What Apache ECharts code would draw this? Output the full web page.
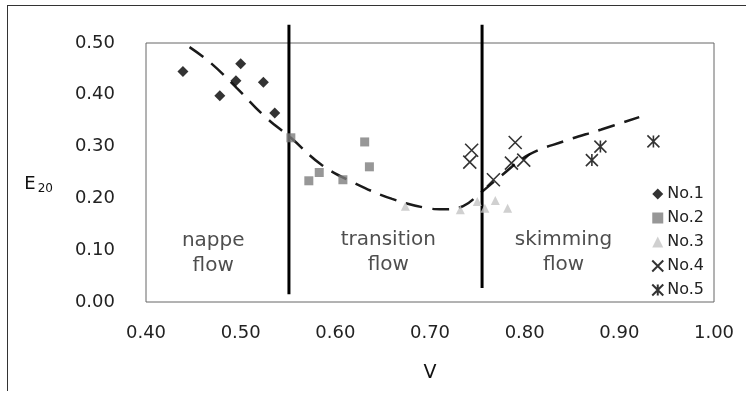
<!DOCTYPE html>
<html>
<head>
  <meta charset="UTF-8">
  <title>E20 vs V</title>
  <style>
    body { margin: 0; background: #fff; }
    #frame {
      position: absolute; left: 7px; top: 5px; width: 739px; height: 385px;
      border-top: 1.5px solid #333; border-left: 1.5px solid #333;
    }
    #chart { position: absolute; left: 0; top: 0; width: 746px; height: 393px; }
  </style>
  <script src="https://cdn.jsdelivr.net/npm/echarts@6/dist/echarts.min.js"></script>
</head>
<body>
  <div id="frame"></div>
  <div id="chart"></div>
  <script>
    // measured points [V, E20]
    var no1 = [[0.439, 0.445], [0.478, 0.398], [0.495, 0.427], [0.500, 0.460], [0.524, 0.424], [0.536, 0.365]];
    var no2 = [[0.553, 0.317], [0.572, 0.234], [0.583, 0.250], [0.608, 0.236], [0.631, 0.309], [0.636, 0.261]];
    var no3 = [[0.674, 0.185], [0.732, 0.178], [0.750, 0.194], [0.758, 0.181], [0.769, 0.196], [0.782, 0.181]];
    var no4 = [[0.742, 0.270], [0.744, 0.293], [0.767, 0.236], [0.786, 0.268], [0.790, 0.308], [0.799, 0.274]];
    var no5 = [[0.871, 0.274], [0.880, 0.300], [0.936, 0.310]];

    // dashed trend curve
    var trendV = [0.446, 0.468, 0.496, 0.525, 0.553, 0.586, 0.621, 0.660, 0.698, 0.714, 0.735, 0.753, 0.774, 0.804, 0.841, 0.881, 0.921];
    var trendE = [0.492, 0.462, 0.413, 0.359, 0.317, 0.264, 0.229, 0.199, 0.181, 0.179, 0.185, 0.210, 0.242, 0.284, 0.310, 0.333, 0.357];

    // flow regime boundaries and labels
    var bounds = [0.551, 0.755];
    var boundBottom = [0.015, 0.027];
    var boundTop = 0.535;
    var regimeNames = ['nappe\nflow', 'transition\nflow', 'skimming\nflow'];
    var regimeV = [0.471, 0.656, 0.841];
    var regimeE = [0.094, 0.096, 0.096];

    var xTicks = [0.4, 1.0, 0.1];
    var yTicks = [0, 0.5, 0.1];

    var font = 'DejaVu Sans';
    var myChart = echarts.init(document.getElementById('chart'));

    var trend = trendV.map(function (v, i) { return [v, trendE[i]]; });
    var regimes = regimeNames.map(function (n, i) { return { name: n, value: [regimeV[i], regimeE[i]] }; });

    var series = [
      {
        name: 'trend', type: 'line', data: trend, smooth: 0.4, symbol: 'none', silent: true,
        lineStyle: { color: '#1a1a1a', width: 2.5, type: [17, 10] }, z: 1
      }
    ];
    bounds.forEach(function (b, i) {
      series.push({
        name: 'bound' + i, type: 'line', clip: false, symbol: 'none', silent: true,
        data: [[b, boundBottom[i]], [b, boundTop]],
        lineStyle: { color: '#000', width: 3 }, z: 3
      });
    });
    series.push(
      { name: 'No.1', type: 'scatter', data: no1, symbol: 'diamond', symbolSize: 11,
        itemStyle: { color: '#000' }, z: 4 },
      { name: 'No.2', type: 'scatter', data: no2, symbol: 'rect', symbolSize: 9,
        itemStyle: { color: '#7d7d7d' }, z: 4 },
      { name: 'No.3', type: 'scatter', data: no3, symbol: 'triangle', symbolSize: 9,
        itemStyle: { color: '#c4c4c4' }, z: 4 },
      { name: 'No.4', type: 'scatter', data: no4, symbol: 'path://M0,0L10,10M10,0L0,10', symbolSize: 13,
        itemStyle: { color: 'transparent', borderColor: '#000', borderWidth: 1.6 }, z: 4 },
      { name: 'No.5', type: 'scatter', data: no5, symbol: 'path://M0,0L10,10M10,0L0,10M5,0L5,10', symbolSize: 12,
        itemStyle: { color: 'transparent', borderColor: '#000', borderWidth: 1.6 }, z: 4 },
      { name: 'regimes', type: 'scatter', data: regimes, symbolSize: 0, silent: true,
        label: { show: true, position: 'inside', formatter: '{b}', fontFamily: font, fontSize: 20,
          color: '#222', lineHeight: 25, align: 'center' } }
    );

    var option = {
      backgroundColor: 'transparent',
      animation: false,
      grid: { left: 146, right: 32, top: 43, bottom: 91, show: true, borderColor: '#666', borderWidth: 1 },
      legend: {
        data: ['No.1', 'No.2', 'No.3', 'No.4', 'No.5'],
        orient: 'vertical', right: 37, top: 181, itemWidth: 11, itemHeight: 11, itemGap: 8,
        textStyle: { fontFamily: font, fontSize: 16, color: '#222', padding: [0, 0, 0, -1] }
      },
      xAxis: {
        type: 'value', min: xTicks[0], max: xTicks[1], interval: xTicks[2],
        name: 'V', nameLocation: 'middle', nameGap: 62,
        nameTextStyle: { fontFamily: font, fontSize: 19, color: '#111' },
        axisLine: { show: false }, axisTick: { show: false }, splitLine: { show: false },
        axisLabel: { fontFamily: font, fontSize: 18, color: '#222', margin: 22,
          formatter: function (v) { return v.toFixed(2); } }
      },
      yAxis: {
        type: 'value', min: yTicks[0], max: yTicks[1], interval: yTicks[2],
        name: '{e|E}{s|20}', nameLocation: 'middle', nameRotate: 0, nameGap: 93,
        nameTextStyle: {
          padding: [24, 0, 0, 0],
          rich: {
            e: { fontFamily: font, fontSize: 18, color: '#111' },
            s: { fontFamily: font, fontSize: 12, color: '#111', padding: [8, 0, 0, 2] }
          }
        },
        axisLine: { show: false }, axisTick: { show: false }, splitLine: { show: false },
        axisLabel: { fontFamily: font, fontSize: 18, color: '#222', margin: 31,
          formatter: function (v) { return v.toFixed(2); } }
      },
      series: series
    };

    myChart.setOption(option);
  </script>
</body>
</html>
